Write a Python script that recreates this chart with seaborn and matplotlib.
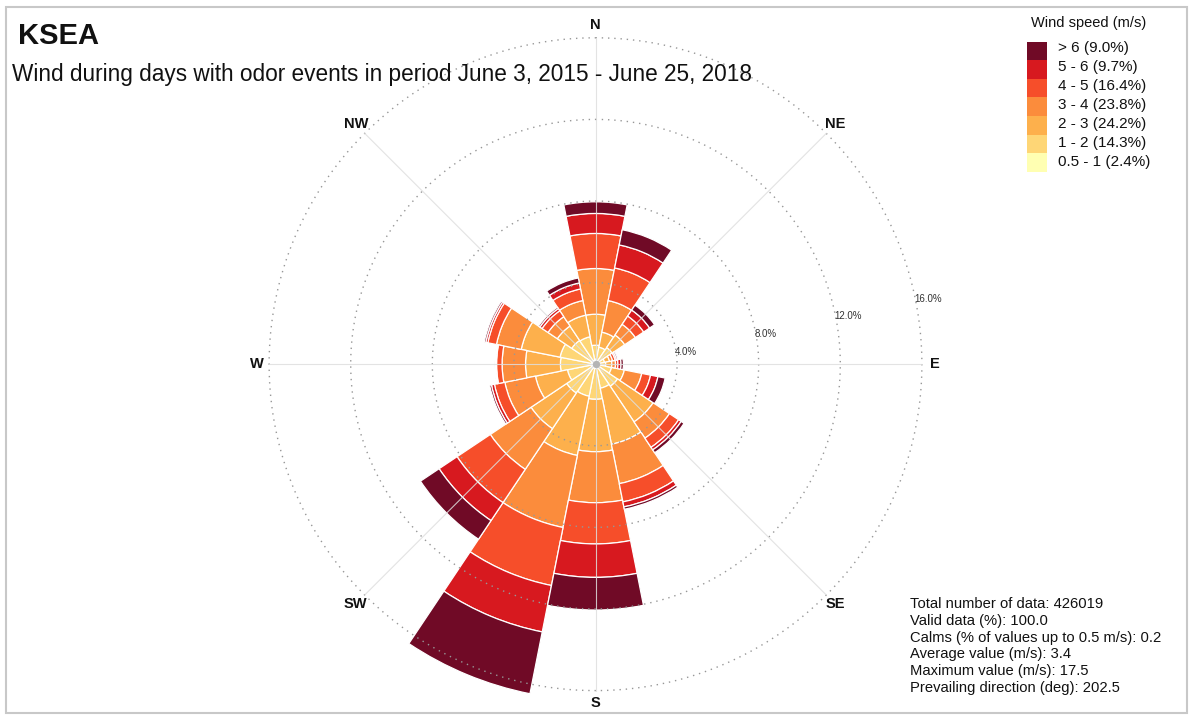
import numpy as np
import pandas as pd
import matplotlib
matplotlib.use("Agg")
import matplotlib.pyplot as plt
from matplotlib.patches import Rectangle
import seaborn as sns

# ---- data -------------------------------------------------------------
directions = ["N", "NNE", "NE", "ENE", "E", "ESE", "SE", "SSE",
              "S", "SSW", "SW", "WSW", "W", "WNW", "NW", "NNW"]
dir_deg = [0.0, 22.5, 45.0, 67.5, 90.0, 112.5, 135.0, 157.5,
           180.0, 202.5, 225.0, 247.5, 270.0, 292.5, 315.0, 337.5]

speed_bins = ["0.5 - 1", "1 - 2", "2 - 3", "3 - 4", "4 - 5", "5 - 6", "> 6"]
bin_share = [2.4, 14.3, 24.2, 23.8, 16.4, 9.7, 9.0]

# frequency (% of all hours) per direction for each speed class
pct_05_1 = [0.25, 0.20, 0.20, 0.15, 0.15, 0.15, 0.20, 0.20,
            0.20, 0.20, 0.20, 0.20, 0.20, 0.20, 0.20, 0.20]
pct_1_2 = [0.68, 0.65, 0.78, 0.30, 0.35, 0.65, 1.10, 1.00,
           1.52, 1.40, 1.50, 1.20, 1.52, 1.57, 1.20, 1.17]
pct_2_3 = [1.52, 0.75, 0.74, 0.25, 0.30, 0.64, 2.10, 2.80,
           2.57, 2.96, 2.10, 1.60, 1.71, 1.94, 0.85, 1.08]
pct_3_4 = [2.24, 1.58, 0.63, 0.15, 0.18, 0.87, 0.96, 1.97,
           2.50, 3.60, 2.40, 1.53, 1.15, 1.24, 0.55, 0.73]
pct_4_5 = [1.72, 1.63, 0.49, 0.13, 0.12, 0.44, 0.54, 0.91,
           2.02, 2.90, 1.96, 0.52, 0.27, 0.43, 0.35, 0.58]
pct_5_6 = [0.98, 1.15, 0.35, 0.07, 0.15, 0.37, 0.15, 0.25,
           1.64, 2.32, 1.06, 0.15, 0.05, 0.10, 0.13, 0.30]
pct_gt6 = [0.57, 0.76, 0.29, 0.07, 0.12, 0.36, 0.17, 0.12,
           1.60, 3.09, 1.10, 0.09, 0.03, 0.08, 0.08, 0.25]

ring_values = [4, 8, 12, 16]
compass_labels = ["N", "NE", "E", "SE", "S", "SW", "W", "NW"]
compass_deg = [0, 45, 90, 135, 180, 225, 270, 315]

station = "KSEA"
subtitle = "Wind during days with odor events in period June 3, 2015 - June 25, 2018"
stats_lines = [
    "Total number of data: 426019",
    "Valid data (%): 100.0",
    "Calms (% of values up to 0.5 m/s): 0.2",
    "Average value (m/s): 3.4",
    "Maximum value (m/s): 17.5",
    "Prevailing direction (deg): 202.5",
]

# ---- tidy table ---------------------------------------------------------
series = [pct_05_1, pct_1_2, pct_2_3, pct_3_4, pct_4_5, pct_5_6, pct_gt6]
df = pd.concat(
    [pd.DataFrame({"direction": directions, "deg": dir_deg,
                   "speed": name, "pct": vals})
     for name, vals in zip(speed_bins, series)],
    ignore_index=True)
table = df.pivot(index="deg", columns="speed", values="pct")[speed_bins]
cum = table.cumsum(axis=1)

# ---- style --------------------------------------------------------------
sns.set_theme(style="white")
plt.rcParams["font.family"] = ["Liberation Sans", "DejaVu Sans"]
palette = sns.color_palette(["#FFFFB2", "#FED676", "#FDB04C", "#FB8C3C",
                             "#F64E2A", "#D7191F", "#700A26"])

W, H = 1192, 719
fig = plt.figure(figsize=(W / 100, H / 100), dpi=100)
fig.patch.set_facecolor("white")


def fx(x):
    return x / W


def fy(y):
    return 1 - y / H


# polar panel: centre (595.5, 364.2) px, 20.4 px per percent
rmax = 17.0
cx, cy, scale = 595.5, 364.2, 20.4
R = rmax * scale
ax = fig.add_axes([fx(cx - R), fy(cy + R), 2 * R / W, 2 * R / H],
                  projection="polar")
ax.set_theta_zero_location("N")
ax.set_theta_direction(-1)
ax.set_ylim(0, rmax)
ax.grid(False)
ax.set_xticks([])
ax.set_yticks([])
ax.spines["polar"].set_visible(False)
ax.patch.set_alpha(0)

theta = np.deg2rad(table.index.values)
width = np.deg2rad(22.5)
for i, name in enumerate(speed_bins):
    bottom = cum[speed_bins[i - 1]].values if i > 0 else np.zeros(len(theta))
    ax.bar(theta, table[name].values, width=width, bottom=bottom,
           color=palette[i], edgecolor="white", linewidth=0.9, zorder=2)

# dotted rings and light spokes drawn over the bars
circ = np.linspace(0, 2 * np.pi, 500)
for r in ring_values:
    ax.plot(circ, np.full_like(circ, r), color="#979797", lw=1.0,
            ls=(0, (1, 3.5)), zorder=3)
for d in compass_deg:
    t = np.deg2rad(d)
    ax.plot([t, t], [0, ring_values[-1]], color="#dedede", lw=0.8,
            alpha=0.85, zorder=3)
ax.scatter([0], [0], s=28, color="#b5b5b5", zorder=4, linewidths=0)

for lab, d in zip(compass_labels, compass_deg):
    ax.text(np.deg2rad(d), 16.62, lab, ha="center", va="center",
            fontsize=10.5, fontweight="bold", color="#111111", clip_on=False)
# ring labels hang just below where each ring crosses a line at 77.5 deg
for r in ring_values:
    ax.text(np.deg2rad(77.5), r, f"{r:.1f}%", ha="left", va="top",
            fontsize=7, color="#333333", clip_on=False)

# titles
fig.text(fx(18), fy(44), station, fontsize=21, fontweight="bold",
         ha="left", va="baseline", color="#111111")
fig.text(fx(12), fy(81), subtitle, fontsize=16.3, ha="left",
         va="baseline", color="#111111")

# legend
fig.text(fx(1031), fy(23), "Wind speed (m/s)", fontsize=10.5,
         ha="left", va="center", color="#111111")
key_top, key_h = 41.7, 18.57
for j, name in enumerate(reversed(speed_bins)):
    idx = len(speed_bins) - 1 - j
    fig.patches.append(Rectangle((fx(1027.3), fy(key_top + key_h * (j + 1))),
                                 fx(1046.7) - fx(1027.3), key_h / H,
                                 transform=fig.transFigure,
                                 facecolor=palette[idx], edgecolor="none"))
    fig.text(fx(1058), fy(48.3 + 18.9 * j),
             f"{name} ({bin_share[idx]:.1f}%)", fontsize=11,
             ha="left", va="center", color="#111111")

# summary statistics
for k, line in enumerate(stats_lines):
    fig.text(fx(910), fy(604 + 16.8 * k), line, fontsize=10.6,
             ha="left", va="center", color="#111111")

# outer frame
fig.patches.append(Rectangle((fx(6), fy(713)), fx(1187) - fx(6),
                             (713 - 7) / H, transform=fig.transFigure,
                             fill=False, edgecolor="#c8c8c8", lw=1.5))

fig.savefig("out.png", dpi=100, facecolor="white")
